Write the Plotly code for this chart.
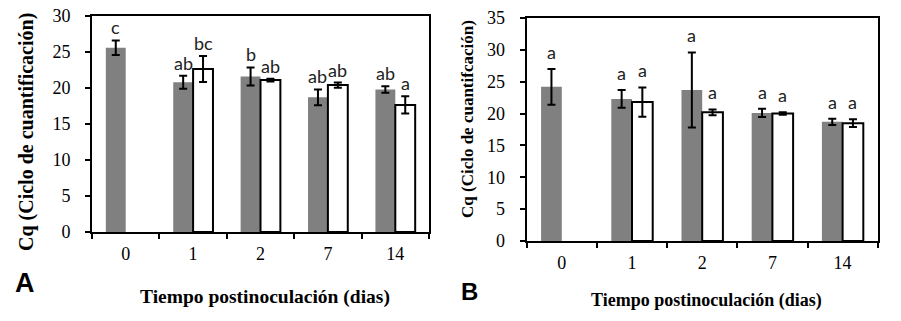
import plotly.graph_objects as go

# ---------------- data ----------------
categories = ["0", "1", "2", "7", "14"]

a_gray = [25.6, 20.8, 21.6, 18.7, 19.8]
a_gray_err = [1.0, 0.9, 1.25, 1.1, 0.45]
a_white = [None, 22.65, 21.1, 20.4, 17.65]
a_white_err = [0, 1.8, 0.2, 0.35, 1.2]
a_gray_letters = ["c", "ab", "b", "ab", "ab"]
a_white_letters = ["", "bc", "ab", "ab", "a"]

b_gray = [24.2, 22.3, 23.7, 20.1, 18.7]
b_gray_err = [2.8, 1.4, 5.9, 0.65, 0.5]
b_white = [None, 21.8, 20.2, 20.0, 18.5]
b_white_err = [0, 2.3, 0.45, 0.2, 0.6]
b_gray_letters = ["a", "a", "a", "a", "a"]
b_white_letters = ["", "a", "a", "a", "a"]

a_yticks = [0, 5, 10, 15, 20, 25, 30]
b_yticks = [0, 5, 10, 15, 20, 25, 30, 35]

# ---------------- layout constants ----------------
# the page body has an 8px margin, so the figure is placed at (8, 8)
OFF = 8
FW, FH = 901 - OFF, 321 - OFF
BARGAP = 0.41


def px(x):
    return (x - OFF) / FW


def py(y):
    return 1 - (y - OFF) / FH


xa_dom = [px(92), px(429)]
ya_dom = [py(232), py(16)]
xb_dom = [px(526.7), px(877.7)]
yb_dom = [py(241), py(18)]

serif = "Liberation Serif"
sans = "Lato"
GRAY = "#808080"

fig = go.Figure()


def add_panel(gray, gerr, white, werr, xref, yref):
    fig.add_trace(go.Bar(
        x=categories, y=gray, xaxis=xref, yaxis=yref,
        marker=dict(color=GRAY, line=dict(width=0)),
        error_y=dict(type="data", array=gerr, color="black", thickness=2, width=4),
        showlegend=False, offsetgroup="g"))
    fig.add_trace(go.Bar(
        x=categories, y=white, xaxis=xref, yaxis=yref,
        marker=dict(color="white", line=dict(color="black", width=2)),
        error_y=dict(type="data", array=werr, color="black", thickness=2, width=4),
        showlegend=False, offsetgroup="w"))


add_panel(a_gray, a_gray_err, a_white, a_white_err, "x", "y")
add_panel(b_gray, b_gray_err, b_white, b_white_err, "x2", "y2")

annotations = []


def add_letters(gray, gerr, white, werr, gl, wl, xdom, xref, yref, gap):
    cat_px = (xdom[1] - xdom[0]) * FW / len(categories)
    half = cat_px * (1 - BARGAP) / 4
    for i in range(len(categories)):
        if gl[i]:
            annotations.append(dict(
                x=i, y=gray[i] + gerr[i], xref=xref, yref=yref, text=gl[i],
                showarrow=False, xshift=-half, yshift=gap, yanchor="bottom",
                xanchor="center",
                font=dict(family=sans, size=18, color="#222")))
        if wl[i]:
            annotations.append(dict(
                x=i, y=white[i] + werr[i], xref=xref, yref=yref, text=wl[i],
                showarrow=False, xshift=half, yshift=gap, yanchor="bottom",
                xanchor="center",
                font=dict(family=sans, size=18, color="#222")))


add_letters(a_gray, a_gray_err, a_white, a_white_err, a_gray_letters,
            a_white_letters, xa_dom, "x", "y", 0)
add_letters(b_gray, b_gray_err, b_white, b_white_err, b_gray_letters,
            b_white_letters, xb_dom, "x2", "y2", 4)


def paper_text(x, y, text, font, size, angle=0):
    return dict(x=px(x), y=py(y), xref="paper", yref="paper",
                xanchor="center", yanchor="middle", textangle=angle,
                text=text, showarrow=False,
                font=dict(family=font, size=size, color="black"))


annotations += [
    paper_text(26, 132, "<b>Cq (Ciclo de cuantificación)</b>", serif, 20, -90),
    paper_text(467, 119, "<b>Cq (Ciclo de cuantifcación)</b>", serif, 17, -90),
    paper_text(265, 297, "<b>Tiempo postinoculación (dias)</b>", serif, 19.5),
    paper_text(706, 300, "<b>Tiempo postinoculación (dias)</b>", serif, 18),
    paper_text(25, 283, "<b>A</b>", "Liberation Sans", 27),
    paper_text(469, 291, "<b>B</b>", "Liberation Sans", 24),
]

xcommon = dict(type="category", range=[-0.5, 4.5], showline=True,
               linecolor="black", linewidth=2, mirror=True, ticks="outside",
               ticklen=5, tickwidth=1.5, tickcolor="black",
               tickson="boundaries", showgrid=False, tickangle=0,
               automargin=False, ticklabeloverflow="allow",
               tickfont=dict(family=serif, size=18, color="black"),
               ticklabelstandoff=4)
ycommon = dict(showline=True, linecolor="black", linewidth=2, mirror=True,
               ticks="outside", ticklen=5, tickwidth=1.5, tickcolor="black",
               showgrid=False, zeroline=False, automargin=False,
               ticklabeloverflow="allow",
               tickfont=dict(family=serif, size=18, color="black"),
               ticklabelstandoff=11)

fig.update_layout(
    width=FW, height=FH,
    margin=dict(l=0, r=0, t=0, b=0, pad=0, autoexpand=False),
    paper_bgcolor="white", plot_bgcolor="white",
    barmode="group", bargap=BARGAP, bargroupgap=0,
    xaxis=dict(domain=xa_dom, anchor="y", **xcommon),
    yaxis=dict(domain=ya_dom, anchor="x", range=[0, 30], tickvals=a_yticks, **ycommon),
    xaxis2=dict(domain=xb_dom, anchor="y2", **xcommon),
    yaxis2=dict(domain=yb_dom, anchor="x2", range=[0, 35], tickvals=b_yticks, **ycommon),
    annotations=annotations,
)

fig.write_html("out.html")
